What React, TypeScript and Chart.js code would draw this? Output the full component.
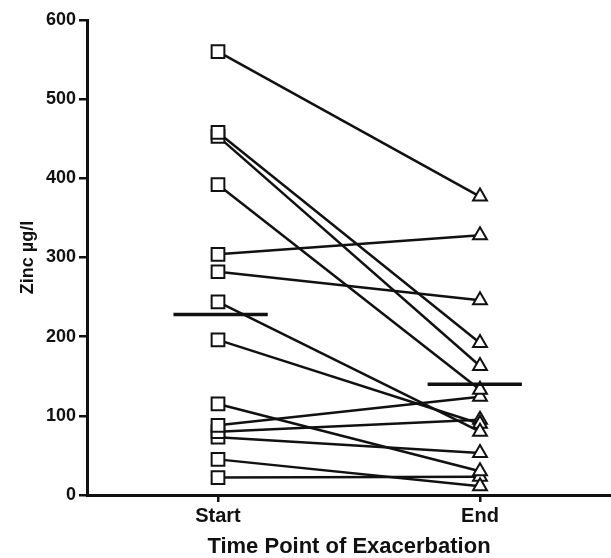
import React, { useEffect, useRef } from 'react';
import { Chart, registerables } from 'chart.js';

Chart.register(...registerables);

// ---- data ----
const CATEGORIES = ['Start', 'End'];
const START_VALUES = [560, 458, 453, 392, 304, 282, 244, 196, 115, 88, 80, 73, 45, 22];
const END_VALUES = [377, 192, 163, 133, 328, 246, 80, 90, 30, 124, 95, 53, 11, 23];
const MEANS = [228, 140];
const Y_TICKS = [0, 100, 200, 300, 400, 500, 600];
const Y_TITLE = 'Zinc µg/l';
const X_TITLE = 'Time Point of Exacerbation';

const FONT = "'Liberation Sans', Arial, Helvetica, sans-serif";
const INK = '#111111';

export default function App() {
  const ref = useRef<HTMLCanvasElement>(null);

  useEffect(() => {
    document.body.style.margin = '0';
    const canvas = ref.current;
    if (!canvas) return;

    // mean bars: horizontal segments spanning around each category
    const meanSpan = [
      [-0.17, 0.19],
      [-0.2, 0.16],
    ];
    const meanSets = MEANS.map((m, i) => ({
      data: [
        { x: i + 1 + meanSpan[i][0], y: m },
        { x: i + 1 + meanSpan[i][1], y: m },
      ],
      borderColor: INK,
      borderWidth: 3.5,
      pointRadius: 0,
      fill: false,
    }));

    const subjectSets = START_VALUES.map((s, i) => ({
      data: [
        { x: 1, y: s },
        { x: 2, y: END_VALUES[i] },
      ],
      borderColor: INK,
      borderWidth: 2.5,
      pointStyle: ['rect', 'triangle'],
      pointRadius: [9, 8],
      pointBorderWidth: 2,
      pointBorderColor: INK,
      pointBackgroundColor: '#ffffff',
      fill: false,
    }));

    const chart = new Chart(canvas, {
      type: 'line',
      data: { datasets: [...meanSets, ...subjectSets] as any },
      options: {
        responsive: false,
        animation: false,
        events: [],
        layout: { autoPadding: false, padding: { top: 20, right: 0, bottom: 0, left: 0 } },
        plugins: {
          legend: { display: false },
          tooltip: { enabled: false },
        },
        scales: {
          x: {
            type: 'linear',
            min: 0.5,
            max: 2.5,
            afterBuildTicks: (s: any) => {
              s.ticks = CATEGORIES.map((_, i) => ({ value: i + 1 }));
            },
            afterFit: (s: any) => {
              s.height = 63;
              s.paddingLeft = 0;
              s.paddingRight = 0;
            },
            ticks: {
              callback: (v: any) => CATEGORIES[Number(v) - 1] ?? '',
              color: INK,
              font: { family: FONT, size: 20, weight: 'bold' },
              padding: 2,
              maxRotation: 0,
              autoSkip: false,
            },
            grid: {
              drawOnChartArea: false,
              drawTicks: true,
              tickLength: 7,
              color: INK,
              lineWidth: 2.5,
            },
            border: { display: true, color: INK, width: 3 },
            title: {
              display: true,
              text: X_TITLE,
              color: INK,
              font: { family: FONT, size: 22, weight: 'bold' },
              padding: { top: 0, bottom: -2 },
            },
          },
          y: {
            type: 'linear',
            min: 0,
            max: 600,
            afterBuildTicks: (s: any) => {
              s.ticks = Y_TICKS.map((v) => ({ value: v }));
            },
            afterFit: (s: any) => {
              s.width = 87;
            },
            ticks: {
              color: INK,
              font: { family: FONT, size: 18, weight: 'bold' },
              padding: 3,
            },
            grid: {
              drawOnChartArea: false,
              drawTicks: true,
              tickLength: 8,
              color: INK,
              lineWidth: 2.5,
            },
            border: { display: true, color: INK, width: 3 },
            title: {
              display: true,
              text: Y_TITLE,
              color: INK,
              font: { family: FONT, size: 18, weight: 'bold' },
              padding: { top: 17, bottom: 0 },
            },
          },
        },
      } as any,
    });

    return () => chart.destroy();
  }, []);

  return (
    <div
      style={{
        position: 'absolute',
        left: 0,
        top: 0,
        width: 611,
        height: 558,
        background: '#ffffff',
      }}
    >
      <canvas ref={ref} width={611} height={558} style={{ display: 'block' }} />
    </div>
  );
}
